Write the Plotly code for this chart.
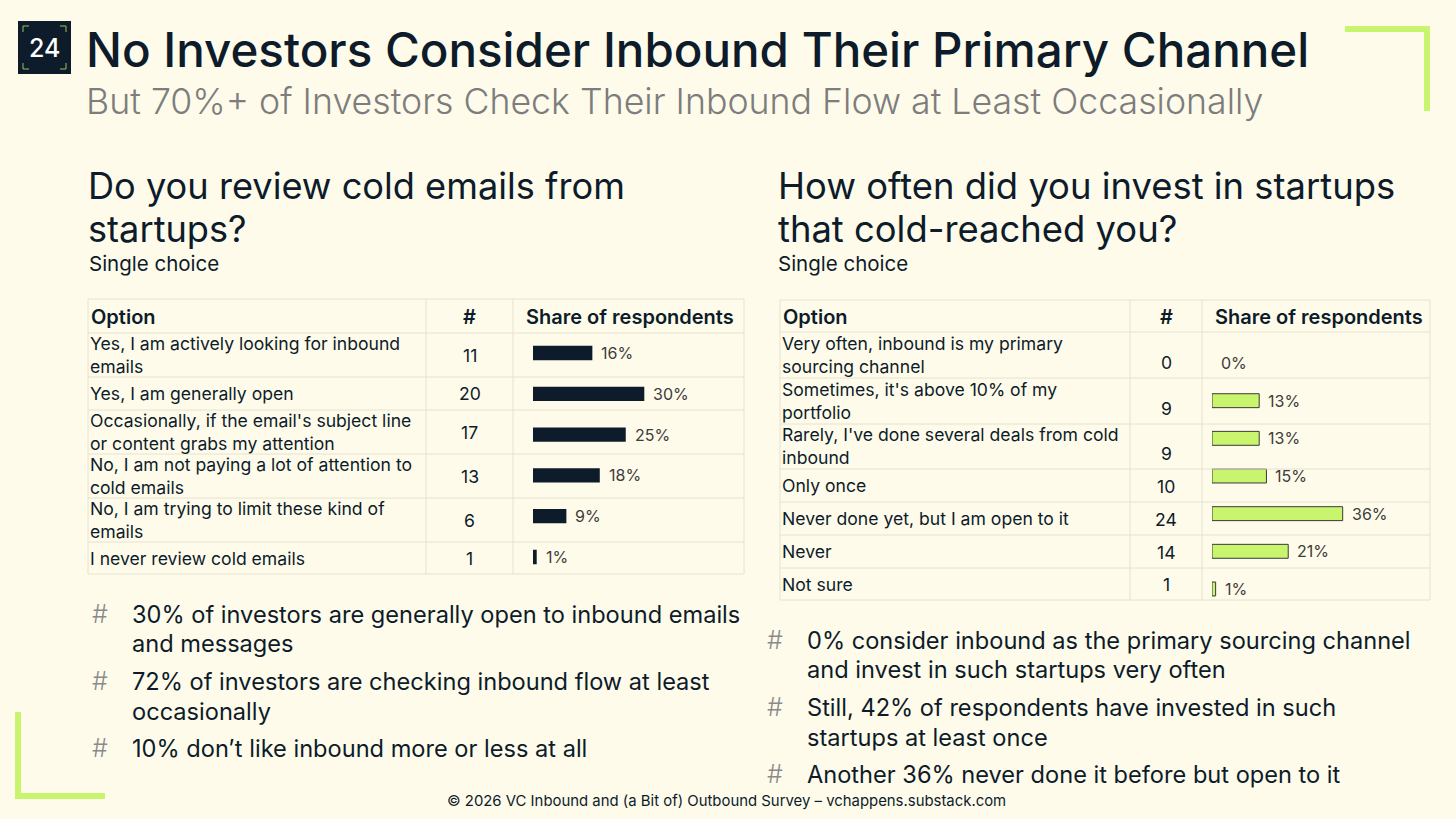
import plotly.graph_objects as go

W, H = 1456, 819

# ---- data ----
email_options = [
    "Yes, I am actively looking for inbound<br>emails",
    "Yes, I am generally open",
    "Occasionally, if the email's subject line<br>or content grabs my attention",
    "No, I am not paying a lot of attention to<br>cold emails",
    "No, I am trying to limit these kind of<br>emails",
    "I never review cold emails",
]
email_counts = [11, 20, 17, 13, 6, 1]
email_share = [16, 30, 25, 18, 9, 1]

invest_options = [
    "Very often, inbound is my primary<br>sourcing channel",
    "Sometimes, it's above 10% of my<br>portfolio",
    "Rarely, I've done several deals from cold<br>inbound",
    "Only once",
    "Never done yet, but I am open to it",
    "Never",
    "Not sure",
]
invest_counts = [0, 9, 9, 10, 24, 14, 1]
invest_share = [0, 13, 13, 15, 36, 21, 1]

left_bullets = [
    ["30% of investors are generally open to inbound emails", "and messages"],
    ["72% of investors are checking inbound flow at least", "occasionally"],
    ["10% don\u2019t like inbound more or less at all"],
]
right_bullets = [
    ["0% consider inbound as the primary sourcing channel", "and invest in such startups very often"],
    ["Still, 42% of respondents have invested in such", "startups at least once"],
    ["Another 36% never done it before but open to it"],
]

# ---- style ----
BG = "#fefbea"
NAVY = "#0d1b2a"
LIME = "#c8f46e"
GRID = "#e6e2d0"
FONT = "Inter"


def px(x):
    return x / W


def py(y):
    return 1 - y / H


annotations = []
shapes = []


def text(x, y, s, size, color=NAVY, anchor="left", vanchor="middle", weight=400, font=FONT):
    annotations.append(dict(
        x=px(x), y=py(y), xref="paper", yref="paper", text=s, showarrow=False,
        xanchor=anchor, yanchor=vanchor, align=anchor if anchor != "center" else "center",
        font=dict(family=font, size=size, color=color, weight=weight),
    ))


def line(x0, y0, x1, y1, color=GRID, width=1):
    shapes.append(dict(type="line", xref="paper", yref="paper",
                       x0=px(x0), y0=py(y0), x1=px(x1), y1=py(y1),
                       line=dict(color=color, width=width)))


# header
shapes.append(dict(type="rect", xref="paper", yref="paper", x0=px(18), x1=px(71), y0=py(74), y1=py(21),
                   fillcolor=NAVY, line=dict(width=0)))
for cx, cy, dx, dy in [(23, 26, 1, 1), (66, 26, -1, 1), (23, 69, 1, -1), (66, 69, -1, -1)]:
    line(cx, cy, cx + 6 * dx, cy, color="#9cc25a", width=1)
    line(cx, cy, cx, cy + 6 * dy, color="#9cc25a", width=1)
text(44.5, 48, "24", 25, color="white", anchor="center", weight=500)
text(84, 49, "No Investors Consider Inbound Their Primary Channel", 47.5, weight=500)
text(84, 101, "But 70%+ of Investors Check Their Inbound Flow at Least Occasionally", 35.7, color="#7d7d7d",
     weight=300)

# lime corner brackets
shapes.append(dict(type="path", xref="paper", yref="paper",
                   path=f"M{px(1345)},{py(29)} L{px(1427)},{py(29)} L{px(1427)},{py(111)}",
                   line=dict(color=LIME, width=6)))
shapes.append(dict(type="path", xref="paper", yref="paper",
                   path=f"M{px(18)},{py(712)} L{px(18)},{py(796)} L{px(105)},{py(796)}",
                   line=dict(color=LIME, width=6)))

# section headings
text(86, 186, "Do you review cold emails from", 36.2)
text(86, 229, "startups?", 36.2)
text(87, 264, "Single choice", 20.5)
text(776, 186, "How often did you invest in startups", 36.4)
text(776, 229, "that cold-reached you?", 36.4)
text(776, 264, "Single choice", 20.5)

TSIZE = 17.6


def table(x_cols, row_lines, options, counts, num_anchor):
    xl, xc1, xc2, xr = x_cols
    for y in row_lines:
        line(xl, y, xr, y)
    for x in x_cols:
        line(x, row_lines[0], x, row_lines[-1])
    hy = (row_lines[0] + row_lines[1]) / 2 + 1
    text(xl + 1, hy, "Option", 20, weight=600)
    text((xc1 + xc2) / 2, hy, "#", 20, anchor="center", weight=600)
    text(xc2 + 11, hy, "Share of respondents", 20, weight=600)
    for i, (opt, n) in enumerate(zip(options, counts)):
        top, bot = row_lines[i + 1], row_lines[i + 2]
        text(xl, (top + bot) / 2, opt, TSIZE)
        if num_anchor == "middle":
            text((xc1 + xc2) / 2, (top + bot) / 2, str(n), TSIZE, anchor="center")
        else:
            text((xc1 + xc2) / 2, bot - 3, str(n), TSIZE, anchor="center", vanchor="bottom")


table([88, 426, 513, 744], [299, 333, 377, 410, 454, 498, 542, 574], email_options, email_counts, "middle")
table([780, 1130, 1202, 1430], [300, 332, 378, 424, 469, 502, 535, 568, 600], invest_options, invest_counts, "bottom")

fig = go.Figure()
fig.add_trace(go.Bar(x=email_share, y=email_options, orientation="h", xaxis="x2", yaxis="y2",
                     marker=dict(color=NAVY, line=dict(width=0)), width=0.35, hoverinfo="skip"))
fig.add_trace(go.Bar(x=invest_share, y=invest_options, orientation="h", xaxis="x3", yaxis="y3",
                     marker=dict(color=LIME, line=dict(color="#3a3a3a",
                                                       width=[0 if v == 0 else 1 for v in invest_share])),
                     width=0.37, hoverinfo="skip"))

for v, c in zip(email_share, email_options):
    annotations.append(dict(x=v, y=c, xref="x2", yref="y2", text=f"{v}%", showarrow=False,
                            xanchor="left", xshift=7, font=dict(family=FONT, size=16, color="#3c3c3c")))
for v, c in zip(invest_share, invest_options):
    annotations.append(dict(x=v, y=c, xref="x3", yref="y3", text=f"{v}%", showarrow=False,
                            xanchor="left", xshift=7, font=dict(family=FONT, size=16, color="#3c3c3c")))


# bullets
def bullets(x_hash, x_text, ys, items):
    k = 0
    for item in items:
        text(x_hash, ys[k], "#", 25, color="#8a8a8a", anchor="center", weight=300)
        for ln in item:
            text(x_text, ys[k], ln, 23.6)
            k += 1


bullets(100, 130, [614, 643, 681, 711, 748], left_bullets)
bullets(775, 805, [640, 669, 707, 737, 774], right_bullets)

text(726, 801, "\u00a9 2026 VC Inbound and (a Bit of) Outbound Survey \u2013 vchappens.substack.com", 14.9,
     anchor="center")

ax_off = dict(visible=False, fixedrange=True)
fig.update_layout(
    width=W, height=H, margin=dict(l=0, r=0, t=0, b=0),
    paper_bgcolor=BG, plot_bgcolor="rgba(0,0,0,0)", showlegend=False,
    annotations=annotations, shapes=shapes,
    xaxis2=dict(domain=[px(533), px(533 + 40 * 3.71)], range=[0, 40], anchor="y2", **ax_off),
    yaxis2=dict(domain=[py(577.4), py(332.6)], range=[5.5, -0.5], anchor="x2", **ax_off),
    xaxis3=dict(domain=[px(1212), px(1212 + 40 * 3.63)], range=[0, 40], anchor="y3", **ax_off),
    yaxis3=dict(domain=[py(607.8), py(344.2)], range=[6.5, -0.5], anchor="x3", **ax_off),
)

# page body has a default margin; remove it so the slide fills the window
fig.write_html("out.html", config={"displayModeBar": False},
               post_script="document.body.style.margin='0';document.body.style.background='" + BG + "';")
